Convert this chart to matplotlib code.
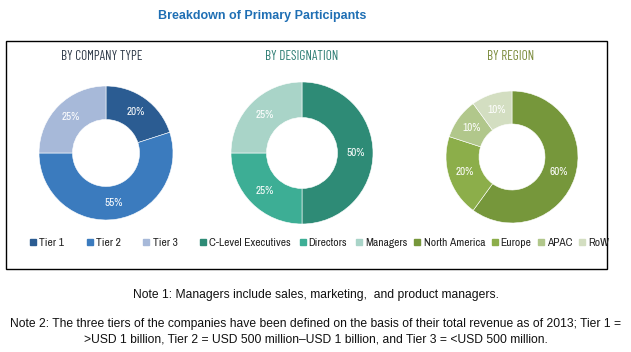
import matplotlib
matplotlib.use("Agg")
import matplotlib.pyplot as plt
from matplotlib.lines import Line2D
from matplotlib.patches import Rectangle
from matplotlib.legend import Legend

# ---- data ----
title = "Breakdown of Primary Participants"
company_labels = ["Tier 1", "Tier 2", "Tier 3"]
company_values = [20, 55, 25]
designation_labels = ["C-Level Executives", "Directors", "Managers"]
designation_values = [50, 25, 25]
region_labels = ["North America", "Europe", "APAC", "RoW"]
region_values = [60, 20, 10, 10]
note1 = "Note 1: Managers include sales, marketing,  and product managers."
note2a = "Note 2: The three tiers of the companies have been defined on the basis of their total revenue as of 2013; Tier 1 ="
note2b = ">USD 1 billion, Tier 2 = USD 500 million\u2013USD 1 billion, and Tier 3 = <USD 500 million."

company_colors = ["#2B5C92", "#3B7BBE", "#A7B9D9"]
designation_colors = ["#2E8B76", "#3DAE95", "#A9D4C8"]
region_colors = ["#76973B", "#8CAE4A", "#B1C78B", "#D3DEC1"]

W, H = 631, 352
fig = plt.figure(figsize=(W / 100, H / 100), dpi=100)
ax = fig.add_axes([0, 0, 1, 1])
ax.set_xlim(0, W)
ax.set_ylim(0, H)
ax.set_aspect("equal")
ax.axis("off")

def Y(y):
    return H - y

narrow = ["Archivo Narrow", "DejaVu Sans"]
cond = ["Barlow Condensed", "Archivo Narrow", "DejaVu Sans"]

ax.text(262, Y(16), title, ha="center", va="center", fontsize=9,
        fontweight="bold", color="#1F6FB4", family=["Liberation Sans", "DejaVu Sans"])

ax.add_patch(Rectangle((6, Y(269)), 601, 228, fill=False, edgecolor="black", lw=1.0))

panels = [
    ("BY COMPANY TYPE", "#2F3B4A", company_labels, company_values, company_colors, (106, 153), 67, 104, 102, 2.0),
    ("BY DESIGNATION", "#2E7D74", designation_labels, designation_values, designation_colors, (302, 153), 71, 304, 302, 0.8),
    ("BY REGION", "#7A8A3A", region_labels, region_values, region_colors, (512, 157), 66, 512, 511, 0.6),
]

for ptitle, tcolor, labels, values, colors, (cx, cy), r, lx, tx, cs in panels:
    ax.text(tx, Y(57), ptitle, ha="center", va="center",
            fontsize=9.5, color=tcolor, family=cond, fontweight="normal")
    wedges, texts, autotexts = ax.pie(
        values, colors=colors, startangle=90, counterclock=False,
        center=(cx, Y(cy)), radius=r, autopct="%d%%", pctdistance=0.75,
        wedgeprops=dict(width=r * 0.5, edgecolor="white", linewidth=0.4),
        textprops=dict(color="white", fontsize=8, family=narrow),
    )
    handles = [Line2D([], [], marker="s", linestyle="none", markersize=4,
                      markerfacecolor=c, markeredgecolor=c) for c in colors]
    leg = Legend(ax, handles, labels, loc="center", bbox_to_anchor=(lx, Y(243)),
                 bbox_transform=ax.transData, ncol=len(labels), frameon=False,
                 handlelength=0.45, handletextpad=0.3, columnspacing=cs,
                 borderaxespad=0, borderpad=0,
                 prop=dict(family=narrow, size=8.3))
    for t in leg.get_texts():
        t.set_color("#222222")
    ax.add_artist(leg)

ax.set_xlim(0, W)
ax.set_ylim(0, H)

nf = ["Liberation Sans", "DejaVu Sans"]
ax.text(316, Y(295), note1, ha="center", va="center", fontsize=8.7, color="#111111", family=nf)
ax.text(316, Y(324), note2a, ha="center", va="center", fontsize=8.7, color="#111111", family=nf)
ax.text(316, Y(340), note2b, ha="center", va="center", fontsize=8.7, color="#111111", family=nf)

fig.savefig("out.png", dpi=100)
